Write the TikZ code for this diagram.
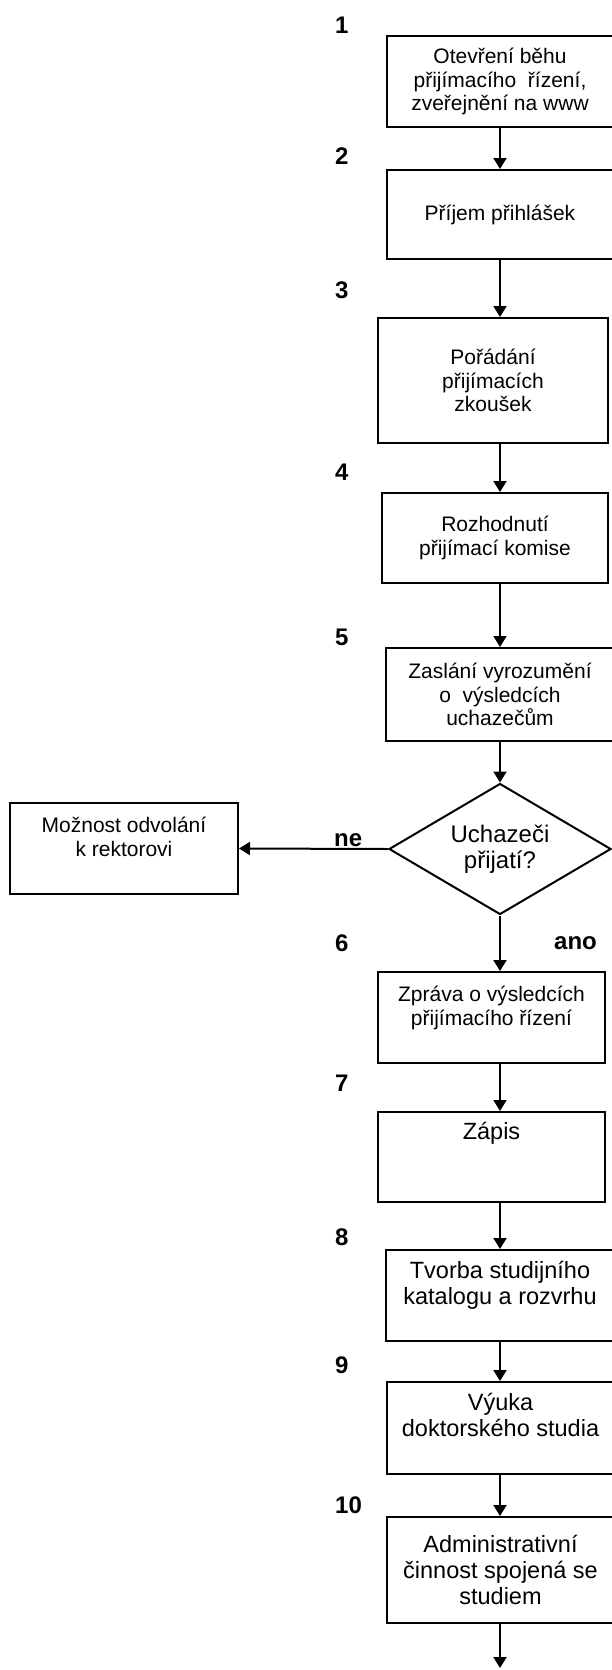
\documentclass[tikz,border=0pt]{standalone}
\usepackage{fontspec}
\setmainfont{Liberation Sans}
\usetikzlibrary{positioning,arrows.meta,shapes.geometric}
\tikzset{
    every node/.style={font=\fontsize{21}{23.5}\selectfont},
    procbox/.style={draw, line width=2pt, align=center, inner sep=2pt, minimum width=226pt, minimum height=91pt},
    bigbox/.style={procbox, font=\fontsize{23.5}{26}\selectfont},
    decision/.style={draw, diamond, aspect=1.7, line width=2pt, inner sep=0pt, align=center, minimum width=222pt, minimum height=131pt, font=\fontsize{24}{26}\selectfont},
    numlabel/.style={anchor=west, inner sep=0pt, font=\fontsize{24}{26}\selectfont\bfseries},
    arrow/.style={-{Triangle[length=11pt,width=13pt]}, line width=2pt},
}

\begin{document}
\begin{tikzpicture}[x=1pt,y=-1pt]
% x of the step numbers
\def\labx{335}
\useasboundingbox (0,0) rectangle (611,1670);
% main column
\node[procbox] (open) at (500,81.5) {Otevření běhu\\přijímacího~ řízení,\\zveřejnění na www};
\node[procbox, minimum height=89pt] (apply) at (500,214.5) {Příjem přihlášek};
\node[procbox, minimum width=230pt, minimum height=125pt] (exam) at (493,380.5) {Pořádání\\přijímacích\\zkoušek};
\node[procbox, minimum height=90pt] (decide) at (495,538) {Rozhodnutí\\přijímací komise};
\node[procbox, minimum width=228pt, minimum height=93pt] (notify) at (500,694.5) {Zaslání vyrozumění\\o~ výsledcích\\uchazečům};
\node[decision] (accepted) at (500,849) {Uchazeči\\přijatí?};
\node[procbox, minimum width=228pt] (appeal) at (124,848.5) {Možnost odvolání\\k rektorovi\\~};
\node[procbox, minimum width=227pt] (report) at (491.5,1017.5) {Zpráva o výsledcích\\přijímacího řízení\\~};
\node[bigbox, minimum width=227pt, minimum height=90pt] (enrol) at (491.5,1157) {Zápis\\~\\~};
\node[bigbox, minimum width=228pt] (catalog) at (500,1295.5) {Tvorba studijního\\katalogu a rozvrhu\\~};
\node[bigbox, minimum width=227pt, minimum height=92pt] (teach) at (500.5,1428) {Výuka\\doktorského studia\\~};
\node[bigbox, minimum width=227pt, minimum height=106pt] (admin) at (500.5,1570) {Administrativní\\činnost spojená se\\studiem};
% step numbers
\foreach \n/\y in {1/25,2/156,3/290,4/472,5/637,6/943,7/1083,8/1237,9/1365,10/1505}
  \node[numlabel] (n\n) at (\labx,\y) {\n};
\node[numlabel] (no) at (334,840) {ne};
\node[numlabel] (yes) at (554,943) {ano};
% arrows
\foreach \p/\q in {open/apply,apply/exam,exam/decide,decide/notify,notify/accepted,accepted/report,report/enrol,enrol/catalog,catalog/teach,teach/admin}
  \draw[arrow] (\p.south -| accepted) -- (\q.north -| accepted);
\draw[arrow] (accepted.west) -- (appeal.east);
\coordinate (out) at (500,1668);
\draw[arrow] (admin.south -| out) -- (out);
\end{tikzpicture}
\end{document}
